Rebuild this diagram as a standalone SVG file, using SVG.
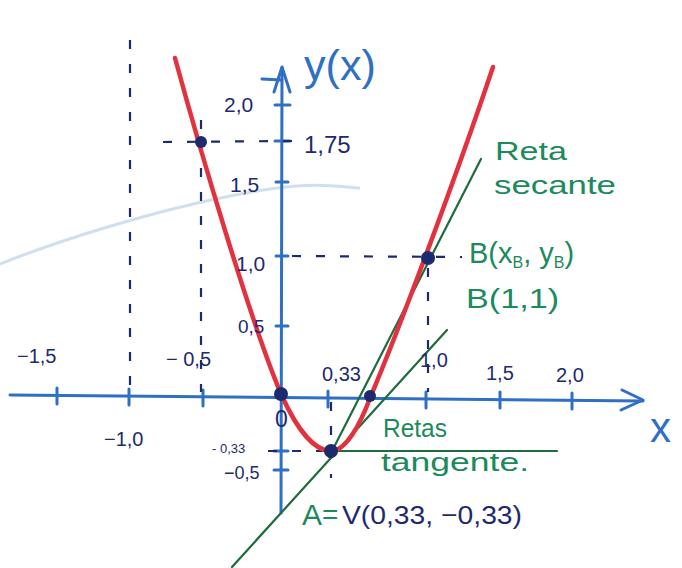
<svg xmlns="http://www.w3.org/2000/svg" width="682" height="568" viewBox="0 0 682 568">
<style>
.axis{stroke:#2f6fc4;stroke-width:3;fill:none;stroke-linecap:round;stroke-linejoin:round}
.tick{stroke:#2f6fc4;stroke-width:3;stroke-linecap:round}
.dash{stroke:#1e2a6e;stroke-width:2.2;stroke-dasharray:9 15;fill:none}
.grn{stroke:#1e6b3c;stroke-width:2.2;fill:none;stroke-linecap:round}
.red{stroke:#e3323f;stroke-width:4.5;fill:none;stroke-linecap:round;stroke-linejoin:round}
.dot{fill:#1e2a6e}
.lbl{font-family:"Liberation Sans","DejaVu Sans",sans-serif;fill:#1e2a6e}
.glbl{font-family:"Liberation Sans","DejaVu Sans",sans-serif;fill:#1b8a5c}
</style>
<rect width="682" height="568" fill="#ffffff"/>
<path d="M0,264 C60,240 150,212 230,196 S330,186 360,188" stroke="#a9c4e2" stroke-width="3" fill="none" opacity="0.55"/>
<g id="axes">
<path class="axis" d="M10,395 L643,401"/>
<path class="axis" d="M622,390 L643,400 L621,410"/>
<path class="axis" d="M281,513 L282,68"/>
<path class="axis" d="M274,92 L282,67 L290,92 M282,80 L262,79"/>
<g class="tick">
<line x1="57" y1="388" x2="57" y2="404"/>
<line x1="129" y1="389" x2="129" y2="405"/>
<line x1="203" y1="390" x2="203" y2="406"/>
<line x1="328" y1="391" x2="328" y2="407"/>
<line x1="426" y1="392" x2="426" y2="408"/>
<line x1="500" y1="392" x2="500" y2="408"/>
<line x1="572" y1="393" x2="572" y2="409"/>
<line x1="275" y1="105" x2="290" y2="105"/>
<line x1="275" y1="141" x2="290" y2="141"/>
<line x1="276" y1="182" x2="288" y2="182"/>
<line x1="276" y1="256" x2="288" y2="256"/>
<line x1="276" y1="326" x2="288" y2="326"/>
<line x1="274" y1="451" x2="288" y2="451"/>
<line x1="274" y1="470" x2="288" y2="470"/>
</g>
</g>
<g id="connectors">
<line class="dash" x1="130" y1="40" x2="130" y2="392"/>
<line class="dash" x1="201" y1="120" x2="201" y2="392"/>
<line class="dash" x1="163" y1="142" x2="292" y2="141"/>
<line class="dash" x1="292" y1="256" x2="462" y2="257"/>
<line class="dash" x1="428" y1="268" x2="428" y2="392"/>
<line class="dash" x1="331" y1="402" x2="331" y2="478"/>
<line class="dash" x1="268" y1="451" x2="330" y2="451"/>
<line class="grn" x1="330" y1="451" x2="557" y2="451"/>
<line class="grn" x1="232" y1="567" x2="447" y2="330"/>
<line class="grn" x1="329" y1="457" x2="481" y2="159"/>
</g>
<g id="parabola">
<path class="red" d="M175,58 C200,150 250,320 281,394 C298,432 316,452 332,451 C346,450 360,425 370,398 C398,332 455,180 493,67"/>
</g>
<g id="point-A"><circle class="dot" cx="331" cy="451" r="7"/></g>
<g id="point-O"><circle class="dot" cx="281" cy="394" r="7"/></g>
<g id="point-B"><circle class="dot" cx="428" cy="258" r="7"/></g>
<g id="point-root"><circle class="dot" cx="370" cy="396" r="6"/></g>
<g id="point-P"><circle class="dot" cx="201" cy="142" r="6"/></g>
<g id="labels">
<text class="lbl" x="304" y="80" font-size="42" textLength="72" lengthAdjust="spacingAndGlyphs" style="fill:#2f6fc4">y(x)</text>
<text class="lbl" x="224" y="112" font-size="21">2,0</text>
<text class="lbl" x="304" y="153" font-size="24">1,75</text>
<text class="lbl" x="230" y="192" font-size="21">1,5</text>
<text class="lbl" x="236" y="271" font-size="21">1,0</text>
<text class="lbl" x="238" y="333" font-size="19">0,5</text>
<text class="lbl" x="212" y="453" font-size="13">- 0,33</text>
<text class="lbl" x="224" y="479" font-size="18">−0,5</text>
<text class="lbl" x="17" y="363" font-size="20">−1,5</text>
<text class="lbl" x="166" y="366" font-size="20">− 0,5</text>
<text class="lbl" x="322" y="381" font-size="20">0,33</text>
<text class="lbl" x="420" y="367" font-size="20">1,0</text>
<text class="lbl" x="486" y="380" font-size="20">1,5</text>
<text class="lbl" x="556" y="382" font-size="20">2,0</text>
<text class="lbl" x="104" y="446" font-size="20">−1,0</text>
<text class="lbl" x="275" y="427" font-size="23">0</text>
<text class="lbl" x="650" y="442" font-size="42" style="fill:#2f6fc4">x</text>
<text class="glbl" x="495" y="160" font-size="26" textLength="72" lengthAdjust="spacingAndGlyphs">Reta</text>
<text class="glbl" x="494" y="194" font-size="26" textLength="122" lengthAdjust="spacingAndGlyphs">secante</text>
<text class="glbl" x="469" y="263" font-size="29">B(x<tspan font-size="16" dy="5">B</tspan><tspan dy="-5">, y</tspan><tspan font-size="16" dy="5">B</tspan><tspan dy="-5">)</tspan></text>
<text class="glbl" x="466" y="308" font-size="28" textLength="93" lengthAdjust="spacingAndGlyphs">B(1,1)</text>
<text class="glbl" x="383" y="437" font-size="25" textLength="64" lengthAdjust="spacingAndGlyphs">Retas</text>
<text class="glbl" x="381" y="471" font-size="25" textLength="148" lengthAdjust="spacingAndGlyphs">tangente.</text>
<text class="glbl" x="302" y="525" font-size="30">A</text>
<text class="glbl" x="322" y="524" font-size="28">=</text>
<text class="lbl" x="342" y="524" font-size="26" textLength="180" lengthAdjust="spacingAndGlyphs">V(0,33, −0,33)</text>
</g>
</svg>
